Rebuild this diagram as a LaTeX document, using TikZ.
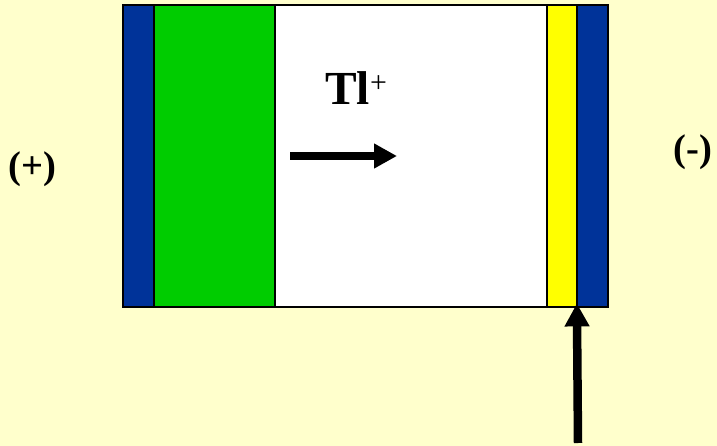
\documentclass[tikz,border=0pt]{standalone}
\usepackage{fontspec}
\setmainfont{Liberation Serif}
\usetikzlibrary{positioning, arrows.meta}
\definecolor{bgyellow}{HTML}{FFFFCC}
\definecolor{elblue}{HTML}{003399}
\definecolor{elgreen}{HTML}{00CC00}
\definecolor{coatyellow}{HTML}{FFFF00}

\begin{document}
\begin{tikzpicture}[x=0.02cm, y=-0.02cm,
  cell/.style={draw, line width=0.03cm, minimum height=6.04cm, inner sep=0pt,
               outer sep=0pt},
  bigarrow/.style={line width=0.17cm, -{Triangle[length=0.46cm, width=0.47cm]}},
  sign/.style={font=\bfseries\fontsize{22}{26}\selectfont, inner sep=0pt, anchor=base west},
]
  \fill[bgyellow] (0,0) rectangle (717,446);
  \useasboundingbox (0,0) rectangle (717,446);
  % cell layers, left to right
  \node[cell, anchor=north west, fill=elblue, minimum width=0.62cm] (lblue) at (123,5) {};
  \node[cell, fill=elgreen, minimum width=2.42cm, right=0pt of lblue] (green) {};
  \node[cell, fill=white, minimum width=5.44cm, right=0pt of green] (middle) {};
  \node[cell, fill=coatyellow, minimum width=0.60cm, right=0pt of middle] (coat) {};
  \node[cell, fill=elblue, minimum width=0.62cm, right=0pt of coat] (rblue) {};

  \node[sign, font=\bfseries\fontsize{27}{32}\selectfont] (ion) at (325,105)
    {Tl\raisebox{7pt}{\normalfont\fontsize{17}{20}\selectfont +}};
  \node[sign] (plus) at (8,178) {(+)};
  \node[sign] (minus) at (673,161) {(-)};

  \coordinate (flowstart) at (290,156);
  \coordinate (flowend) at (397,156);
  \coordinate (probe) at (578,443);
  \draw[bigarrow] (flowstart) -- (flowend);
  \draw[bigarrow, shorten >=-2] (probe) -- (coat.south east);
\end{tikzpicture}
\end{document}
